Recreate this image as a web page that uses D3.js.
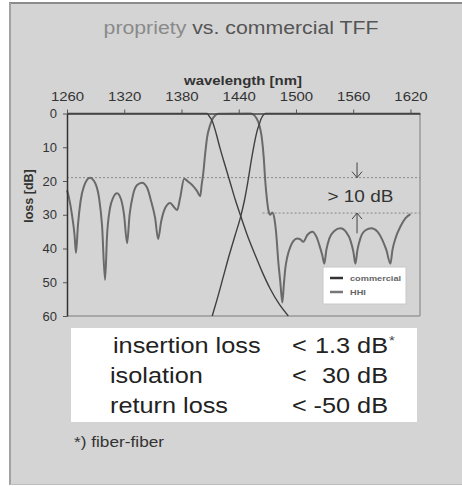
<!DOCTYPE html>
<html>
<head>
<meta charset="utf-8">
<script src="https://cdn.jsdelivr.net/npm/d3@7"></script>
<style>
    body { margin: 0; background: #fff; }
    svg { display: block; font-family: "Liberation Sans", Arial, sans-serif; }
</style>
</head>
<body>
<svg id="chart" width="462" height="486"></svg>
<script>

// ticks of the two axes
var xTicks = [1260, 1320, 1380, 1440, 1500, 1560, 1620];
var yTicks = [0, 10, 20, 30, 40, 50, 60];

// HHI filter, wavelength in nm / loss in dB
var hhiWl = [1260, 1262.1, 1265.2, 1267.9, 1269.4, 1271.5, 1274.2, 1277.8, 1284.1, 1289.4,
    1293.6, 1296.7, 1299.9, 1302.0, 1305.1, 1308.3, 1312.5, 1316.7, 1319.8, 1323.0,
    1325.6, 1329.3, 1333.5, 1338.7, 1344.0, 1348.2, 1352.4, 1355.5, 1358.7, 1362.9,
    1368.1, 1372.3, 1375.5, 1378.6, 1382.8, 1387.0, 1392.2, 1396.4, 1399.6, 1401.2,
    1402.7, 1404.8, 1406.9, 1409.6, 1412.2, 1415.3, 1418.5, 1452.1, 1455.2, 1458.4,
    1461.5, 1464.1, 1466.2, 1467.8, 1469.4, 1471.0, 1473.1, 1475.2, 1477.3, 1479.4,
    1481.5, 1483.6, 1485.7, 1487.2, 1488.8, 1490.9, 1494.1, 1497.2, 1501.4, 1504.6,
    1507.7, 1511.9, 1517.2, 1521.4, 1524.5, 1527.6, 1529.7, 1531.8, 1535.0, 1540.2,
    1546.5, 1552.8, 1557.0, 1560.2, 1562.3, 1564.4, 1567.5, 1572.8, 1579.1, 1585.4,
    1590.6, 1594.8, 1599.0, 1601.1, 1604.3, 1609.5, 1614.8, 1620.0];
var hhiLoss = [22.7, 25, 30, 36, 41.3, 33, 26, 21.5, 19, 20.5,
    25, 33, 49.3, 36, 28, 25, 23.6, 25.5, 30, 38.4,
    30, 24, 21.2, 20.5, 22, 26, 31, 37.2, 32, 28,
    26.5, 27.8, 28.6, 25, 19.3, 20.2, 21.5, 23, 24.5, 21,
    18, 12, 7, 3.8, 1.8, 0.6, 0.1, 0, 0.3, 1.3,
    3.4, 7, 13, 20, 25, 28.5, 30, 29.3, 31, 36,
    44, 50, 56, 51, 46, 42.5, 39.5, 37.8, 37, 37.3,
    38, 36, 35, 36.5, 39, 42, 44.5, 40.5, 37, 34.8,
    34, 35.2, 37.5, 41, 44.5, 40.5, 37, 34.6, 34, 35,
    37.5, 40.5, 44.5, 40.5, 37, 33.5, 31, 29.8];

// commercial TFF, falling edge and rising edge
var comWl1 = [1260, 1406.9, 1409.0, 1412.2, 1416.4, 1420.6, 1425.8, 1431.1, 1436.3, 1441.6,
    1448.9, 1457.3, 1464.7, 1473.1, 1482.5, 1492.0];
var comLoss1 = [0, 0, 0.8, 2.2, 6, 10.5, 15.5, 20.5, 25.5, 30,
    36, 42, 47, 52, 56.5, 60];
var comWl2 = [1412.2, 1417.4, 1423.7, 1430.0, 1436.3, 1441.6, 1445.8, 1450.0, 1453.1, 1456.3,
    1459.4, 1461.5, 1463.6, 1465.7, 1467.8, 1630];
var comLoss2 = [60, 55, 48.5, 42, 36, 31, 26, 19.5, 14, 9,
    5, 3.2, 1.5, 0.5, 0, 0];

// >10 dB annotation levels
var levelTop = 19, levelBottom = 29.5;

var legendNames = ["commercial", "HHI"];
var specNames = ["insertion loss", "isolation", "return loss"];
var specValues = ["1.3 dB", "30 dB", "-50 dB"];

// ------------------------------------------------------------------

var svg = d3.select("#chart");
var sx = 1.15;   // the picture is a bit wider than tall

function stretchText(sel, x, y) {
    return sel.attr("transform", "translate(" + x + "," + y + ") scale(" + sx + ",1)");
}

// grey panel
svg.append("rect").attr("x", 10).attr("y", 3).attr("width", 460).attr("height", 481)
    .style("fill", "#d4d4d4");
svg.append("line").attr("x1", 9).attr("x2", 462).attr("y1", 3).attr("y2", 3)
    .style("stroke", "#8c8c8c").style("stroke-width", 2);
svg.append("line").attr("x1", 10).attr("x2", 10).attr("y1", 3).attr("y2", 485)
    .style("stroke", "#a2a2a2").style("stroke-width", 2);
svg.append("line").attr("x1", 10).attr("x2", 462).attr("y1", 484.5).attr("y2", 484.5)
    .style("stroke", "#bcbcbc").style("stroke-width", 1);

// title
var title = stretchText(svg.append("text"), 241, 34)
    .attr("text-anchor", "middle").style("font-size", "18.5px");
title.append("tspan").text("propriety").style("fill", "#8a8a8a");
title.append("tspan").text(" vs. commercial TFF").style("fill", "#555");

var x = d3.scaleLinear().domain([1260, 1630]).range([67, 420]);
var y = d3.scaleLinear().domain([0, 60]).range([113.5, 316]);

// frame: right + bottom borders
svg.append("line").attr("x1", x(1630)).attr("x2", x(1630)).attr("y1", y(0)).attr("y2", y(60))
    .style("stroke", "#9a9a9a").style("stroke-width", 1.5);
svg.append("line").attr("x1", x(1260)).attr("x2", x(1630)).attr("y1", y(60)).attr("y2", y(60))
    .style("stroke", "#9a9a9a").style("stroke-width", 1.5);

// dotted level lines
svg.append("line").attr("x1", x(1260)).attr("x2", x(1630))
    .attr("y1", y(levelTop)).attr("y2", y(levelTop))
    .style("stroke", "#888").style("stroke-dasharray", "2,2");
svg.append("line").attr("x1", x(1465)).attr("x2", x(1630))
    .attr("y1", y(levelBottom)).attr("y2", y(levelBottom))
    .style("stroke", "#888").style("stroke-dasharray", "2,2");

var line = d3.line()
    .x(function (d) { return x(d[0]); })
    .y(function (d) { return y(d[1]); })
    .curve(d3.curveMonotoneX);

var com1 = comWl1.map(function (w, i) { return [w, comLoss1[i]]; });
var com2 = comWl2.map(function (w, i) { return [w, comLoss2[i]]; });
var hhi = hhiWl.map(function (w, i) { return [w, hhiLoss[i]]; });

svg.append("path").datum(hhi).attr("d", line)
    .style("fill", "none").style("stroke", "#6a6a6a").style("stroke-width", 2);
svg.selectAll(".com").data([com1, com2]).enter()
    .append("path").attr("class", "com").attr("d", line)
    .style("fill", "none").style("stroke", "#404040").style("stroke-width", 1.4);

// axes
var xAxis = svg.append("g").attr("transform", "translate(0," + y(0) + ")")
    .call(d3.axisTop(x).tickValues(xTicks).tickFormat(d3.format("d"))
        .tickSize(4).tickPadding(9).tickSizeOuter(0));
var yAxis = svg.append("g").attr("transform", "translate(" + x(1260) + ",0)")
    .call(d3.axisLeft(y).tickValues(yTicks).tickSize(4).tickPadding(6).tickSizeOuter(0));

xAxis.select(".domain").style("stroke", "#444").style("stroke-width", 1.5);
yAxis.select(".domain").style("stroke", "#333").style("stroke-width", 1.5);
svg.selectAll(".tick line").style("stroke", "#555");
xAxis.selectAll(".tick text").style("font-size", "13px").style("fill", "#333")
    .attr("transform", "scale(" + sx + ",1)");
yAxis.selectAll(".tick text").style("font-size", "13px").style("fill", "#333");

stretchText(svg.append("text"), 243, 85).attr("text-anchor", "middle")
    .style("font-size", "13px").style("font-weight", "bold").style("fill", "#333")
    .text("wavelength [nm]");
svg.append("text").attr("transform", "translate(33,196) rotate(-90)")
    .attr("text-anchor", "middle")
    .style("font-size", "12.5px").style("font-weight", "bold").style("fill", "#333")
    .text("loss [dB]");

// > 10 dB arrows
var arrowX = x(1564);
function arrow(from, to) {
    var dir = to > from ? -1 : 1;
    svg.append("path")
        .attr("d", "M" + arrowX + "," + y(from) + "V" + y(to) +
            "M" + (arrowX - 5) + "," + (y(to) + dir * 6) + "L" + arrowX + "," + y(to) +
            "L" + (arrowX + 5) + "," + (y(to) + dir * 6))
        .style("fill", "none").style("stroke", "#444").style("stroke-width", 1);
}
arrow(levelTop - 4.5, levelTop);
arrow(levelBottom + 6, levelBottom);
stretchText(svg.append("text"), x(1533), y(26.3))
    .style("font-size", "16.5px").style("fill", "#333").text("> 10 dB");

// legend
var lg = svg.append("g").attr("transform", "translate(323,267)");
lg.append("rect").attr("width", 83).attr("height", 37)
    .style("fill", "#fff").style("stroke", "#c8c8c8");
lg.selectAll(".item").data(legendNames).enter().append("g")
    .attr("transform", function (d, i) { return "translate(7," + (11 + i * 14) + ")"; })
    .each(function (d, i) {
        var g = d3.select(this);
        g.append("line").attr("x1", 0).attr("x2", 13)
            .style("stroke", i === 0 ? "#333" : "#777").style("stroke-width", 2.5);
        stretchText(g.append("text"), 20, 3)
            .style("font-size", "8px").style("font-weight", "bold").style("fill", "#666").text(d);
    });

// spec box
svg.append("rect").attr("x", 71).attr("y", 328).attr("width", 346).attr("height", 94)
    .style("fill", "#fff");
var rowY = [353, 383, 413];
var nameX = [113, 110, 110];
specNames.forEach(function (name, i) {
    stretchText(svg.append("text"), nameX[i], rowY[i])
        .style("font-size", "22px").style("fill", "#222").text(name);
    stretchText(svg.append("text"), 292, rowY[i])
        .style("font-size", "22px").style("fill", "#222").text("<");
    stretchText(svg.append("text"), 388, rowY[i]).attr("text-anchor", "end")
        .style("font-size", "22px").style("fill", "#222").text(specValues[i]);
});
stretchText(svg.append("text"), 389, 345)
    .style("font-size", "13px").style("fill", "#444").text("*");

stretchText(svg.append("text"), 74, 447)
    .style("font-size", "15px").style("fill", "#333").text("*)  fiber-fiber");

</script>
</body>
</html>
